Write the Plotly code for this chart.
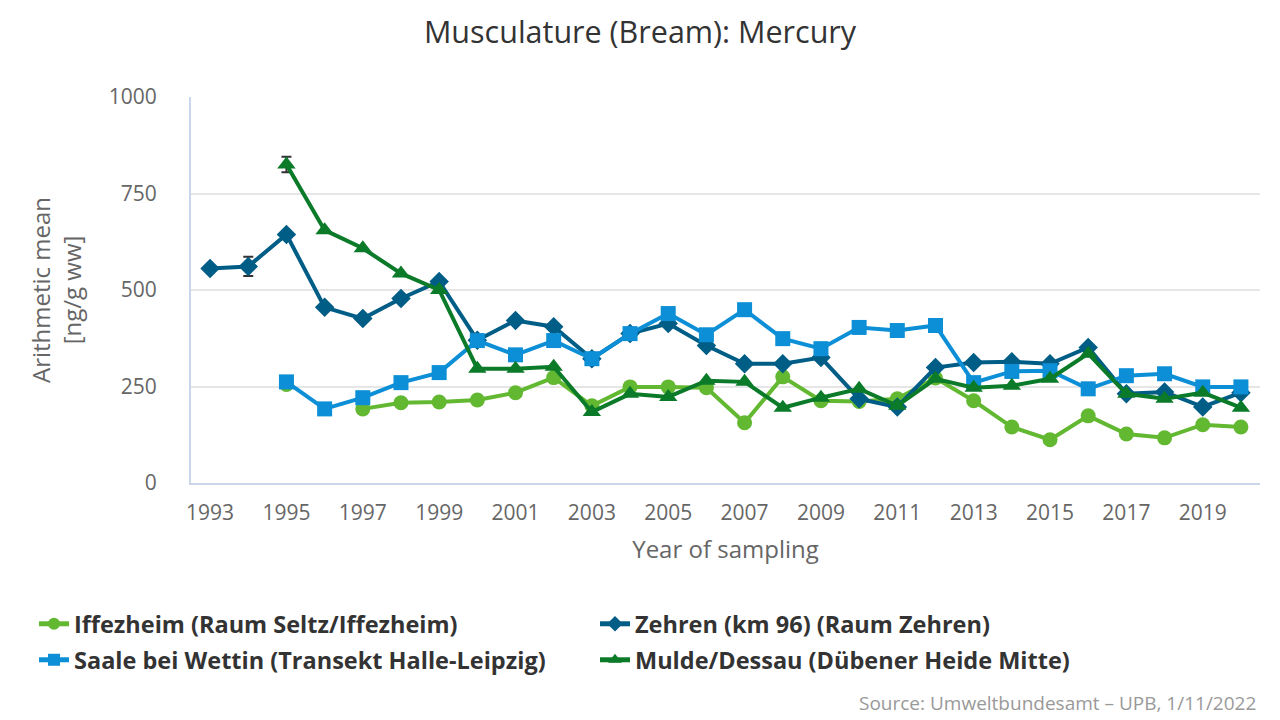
import plotly.graph_objects as go

years = list(range(1993, 2021))

iffezheim = [None, None, 255, None, 192, 208, 210, 215, 234, 273, 200, 249, 249, 247, 156, 275,
             213, 211, 218, 272, 213, 145, 112, 174, 127, 117, 151, 145]
zehren = [556, 561, 644, 455, 426, 478, 522, 370, 421, 405, 322, 387, 413, 356, 309, 309,
          325, 218, 197, 299, 312, 314, 309, 351, 231, 236, 197, 234]
saale = [None, None, 262, 192, 221, 260, 286, 369, 332, 369, 322, 387, 439, 384, 449, 374,
         348, 403, 395, 408, 260, 289, 291, 244, 278, 283, 249, 249]
mulde = [None, None, 825, 655, 608, 543, 500, 296, 296, 301, 184, 231, 223, 265, 262, 195,
         221, 244, 200, 270, 247, 252, 270, 335, 231, 218, 234, 195]

zehren_err = [6, 25, 6] + [0] * 25
saale_err = [0, 0, 6] + [0] * 25
mulde_err = [0, 0, 20] + [0] * 25

names = ["Iffezheim (Raum Seltz/Iffezheim)", "Zehren (km 96) (Raum Zehren)",
         "Saale bei Wettin (Transekt Halle-Leipzig)", "Mulde/Dessau (Dübener Heide Mitte)"]
colors = ["#63b832", "#005d86", "#0c8fd6", "#0b7a29"]
symbols = ["circle", "diamond", "square", "triangle-up"]
sizes = [15, 15, 15, 16]
series = [iffezheim, zehren, saale, mulde]
errs = [None, zehren_err, saale_err, mulde_err]
legend_rows = ["legend", "legend", "legend2", "legend2"]

fig = go.Figure()
for name, col, sym, sz, vals, err, lg in zip(names, colors, symbols, sizes, series, errs, legend_rows):
    kw = {}
    if err is not None:
        kw["error_y"] = dict(type="data", array=err, visible=True,
                             color="#333333", thickness=2, width=5)
    fig.add_trace(go.Scatter(
        x=years, y=vals, name=name, mode="lines+markers",
        line=dict(color=col, width=4),
        marker=dict(symbol=sym, size=sz, color=col),
        connectgaps=False, legend=lg, **kw))

PL, PR, PT, PB = 191, 1260, 97, 483
pw, ph = PR - PL, PB - PT

def px_x(x):
    return (x - PL) / pw

def px_y(y):
    return (PB - y) / ph

legend_style = dict(orientation="h", xanchor="left", yanchor="middle",
                    entrywidth=516, entrywidthmode="pixels",
                    font=dict(size=23.5, color="#333333", weight="bold"),
                    itemsizing="constant", bgcolor="rgba(0,0,0,0)")

fig.update_layout(
    width=1280, height=720,
    paper_bgcolor="white", plot_bgcolor="white",
    font=dict(family="Open Sans, sans-serif", color="#333333"),
    title=dict(text="Musculature (Bream): Mercury", x=0.5, xanchor="center",
               y=1 - 32 / 720, yref="container", yanchor="middle",
               font=dict(size=30.5, color="#333333")),
    margin=dict(l=PL, r=1280 - PR, t=PT, b=720 - PB, autoexpand=False),
    xaxis=dict(range=[1992.5, 2020.5], tickmode="array", tickvals=list(range(1993, 2021, 2)),
               showgrid=False, showline=True, linecolor="#ccd6eb", linewidth=2,
               ticks="", tickfont=dict(size=21, color="#666666"), ticklabelstandoff=10,
               title=dict(text="Year of sampling", font=dict(size=24, color="#666666"), standoff=16),
               zeroline=False),
    yaxis=dict(range=[0, 1000], tickvals=[0, 250, 500, 750, 1000],
               showgrid=True, gridcolor="#e6e6e6", gridwidth=2,
               showline=True, linecolor="#ccd6eb", linewidth=2,
               tickfont=dict(size=21, color="#666666"), ticks="", ticklabelstandoff=28,
               title=dict(text="Arithmetic mean<br>[ng/g ww]", font=dict(size=24, color="#666666"), standoff=20),
               zeroline=False),
    legend=dict(x=px_x(34), y=px_y(624), **legend_style),
    legend2=dict(x=px_x(34), y=px_y(660), **legend_style),
    annotations=[dict(text="Source: Umweltbundesamt – UPB, 1/11/2022", xref="paper", yref="paper",
                      x=px_x(1258), y=px_y(703), xanchor="right", yanchor="middle",
                      showarrow=False, font=dict(size=19, color="#999999"))],
)

fig.write_html("out.html", config={"displayModeBar": False},
               post_script="document.body.style.margin='0';document.body.style.overflow='hidden';")
